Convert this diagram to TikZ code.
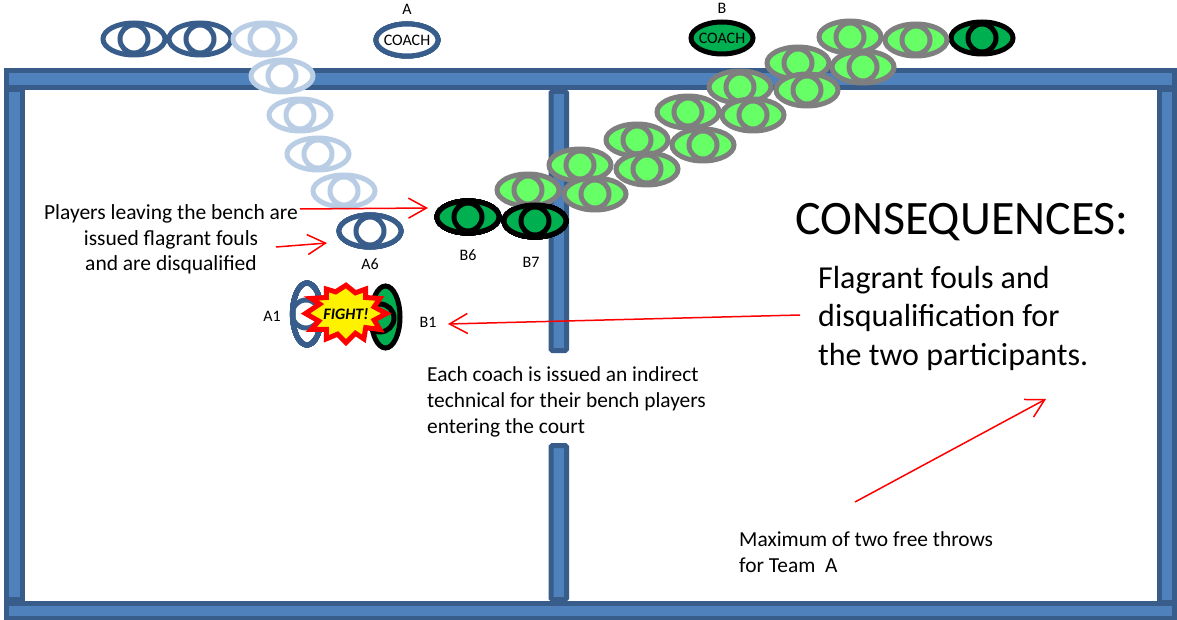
\documentclass[tikz,border=0pt]{standalone}
\usepackage{fontspec}
\setmainfont{Carlito}
\usetikzlibrary{arrows.meta,shapes.geometric}
\definecolor{wallfill}{HTML}{4F81BD}
\definecolor{wallline}{HTML}{385D8A}
\definecolor{lightblue}{HTML}{B9CDE5}
\definecolor{teamgreen}{HTML}{00B050}
\definecolor{ghostgreen}{HTML}{66FF66}
\definecolor{ghostgray}{HTML}{7F7F7F}
\tikzset{
  wall/.style={draw=wallline,fill=wallfill,line width=5pt},
  wallpost/.style={wall,rounded corners=1.5pt},
  body/.style={ellipse,draw,line width=5pt,inner sep=0pt,minimum width=62pt,minimum height=32pt},
  coachbody/.style={body,inner xsep=-5pt,inner ysep=-2pt,font=\fontsize{16}{18}\selectfont},
  tallbody/.style={ellipse,draw,line width=5pt,inner sep=0pt,minimum width=29pt,minimum height=62pt},
  head/.style={circle,draw,line width=5pt,inner sep=0pt,minimum size=28pt},
  redarrow/.style={draw=red,line width=1.5pt,-{Straight Barb[length=18pt,width=20pt,line width=1.5pt]}},
  lbl/.style={inner sep=0pt,font=\fontsize{16}{18}\selectfont},
  note/.style={inner sep=0pt,font=\fontsize{21.4}{26}\selectfont,align=left,anchor=north west}
}
\newcommand{\player}[5]{% name, x, y, line, fill
  \node[body,draw=#4,fill=#5] (#1) at (#2,#3) {};
  \node[head,draw=#4,fill=#5] (#1h) at (#2,#3) {};
}
\begin{document}
\begin{tikzpicture}[x=1pt,y=-1pt]
  \useasboundingbox (0,0) rectangle (1177,620);
  % court
  \draw[wall] (6.5,90) rectangle (22.5,599.5);
  \draw[wall] (1159,90) rectangle (1174.5,602.5);
  \draw[wallpost] (551,91.5) rectangle (566.5,350.5);
  \draw[wallpost] (551,445.5) rectangle (566.5,599.5);
  \draw[wall] (6.5,70.5) rectangle (1174.5,88);
  \draw[wall] (6.5,603.5) rectangle (1174.5,618);
  % team A bench
  \player{a1bench}{134}{39}{wallline}{white}
  \player{a2bench}{200}{39}{wallline}{white}
  \foreach \n/\x/\y in {t1/264/39,t2/282/76,t3/300/115,t4/318/154,t5/344/191}
    \player{\n}{\x}{\y}{lightblue}{white}
  \player{a6}{370}{231}{wallline}{white}
  \node[coachbody,draw=wallline,fill=white] (coacha) at (407,40) {COACH};
  \node[lbl] (la) at (407,9) {A};
  % team B bench
  \node[coachbody,draw=black,fill=teamgreen] (coachb) at (722,38) {COACH};
  \node[lbl] (lb) at (722,8) {B};
  \player{b8}{982}{38}{black}{teamgreen}
  \foreach \n/\x/\y in {g1/916/40,g2/850/37,g3/863/67,g4/798/63,g5/807/90,g6/740/87,g7/753/115,g8/688/112,g9/703/145,g10/637/140,g11/647/169,g12/580/165,g13/595/194,g14/528/190}
    \player{\n}{\x}{\y}{ghostgray}{ghostgreen}
  \player{b6}{468}{217}{black}{teamgreen}
  \player{b7}{535}{221}{black}{teamgreen}
  % fight
  \node[tallbody,draw=wallline] (a1) at (307,314) {};
  \node[head,draw=wallline] (a1h) at (306,314) {};
  \node[tallbody,draw=black,fill=teamgreen] (b1) at (385.5,317) {};
  \node[head,draw=black,fill=teamgreen] (b1h) at (380,318) {};
  \draw[shift={(346,313.5)},scale=0.94,draw=red,fill=yellow,line width=5pt]
    (-43,0) -- (-28,-10) -- (-37,-16) -- (-21,-17) -- (-21,-26) -- (-11,-23) -- (0,-30)
    -- (10,-22) -- (21,-26) -- (21,-17) -- (36,-16) -- (30,-7) -- (43,0) -- (30,7)
    -- (36,17) -- (21,15) -- (19,27) -- (10,21) -- (0,31) -- (-9,22) -- (-21,27)
    -- (-21,17) -- (-37,17) -- (-29,8) -- cycle;
  \node[inner sep=0pt,font=\fontsize{16}{18}\selectfont\bfseries\itshape] (fight) at (346,314) {FIGHT!};
  % labels
  \node[lbl] (la6) at (370,264) {A6};
  \node[lbl] (lb6) at (468,255) {B6};
  \node[lbl] (lb7) at (531,262) {B7};
  \node[lbl] (la1) at (272,316) {A1};
  \node[lbl] (lb1) at (428,322) {B1};
  \node[inner sep=0pt,align=center,font=\fontsize{21.5}{25.3}\selectfont] (leaving) at (171,239.5) {Players leaving the bench are\\issued flagrant fouls\\and are disqualified};
  \node[note] (indirect) at (427,366) {Each coach is issued an indirect\\technical for their bench players\\entering the court};
  \node[inner sep=0pt,anchor=west,font=\fontsize{48}{54}\selectfont] (conseq) at (795,222) {CONSEQUENCES:};
  \node[inner sep=0pt,anchor=north west,align=left,font=\fontsize{32}{38.5}\selectfont] (flagrant) at (818,266) {Flagrant fouls and\\disqualification for\\the two participants.};
  \node[note] (maxfree) at (739,531) {Maximum of two free throws\\for Team~~A};
  % arrows
  \coordinate (p1) at (300,209);
  \coordinate (q1) at (428,208);
  \coordinate (p2) at (276,247);
  \coordinate (q2) at (327,243);
  \coordinate (p3) at (800,315);
  \coordinate (q3) at (448,324);
  \coordinate (p4) at (855,502);
  \coordinate (q4) at (1046,399);
  \draw[redarrow] (p1) -- (q1);
  \draw[redarrow] (p2) -- (q2);
  \draw[redarrow] (p3) -- (q3);
  \draw[redarrow] (p4) -- (q4);
\end{tikzpicture}
\end{document}
